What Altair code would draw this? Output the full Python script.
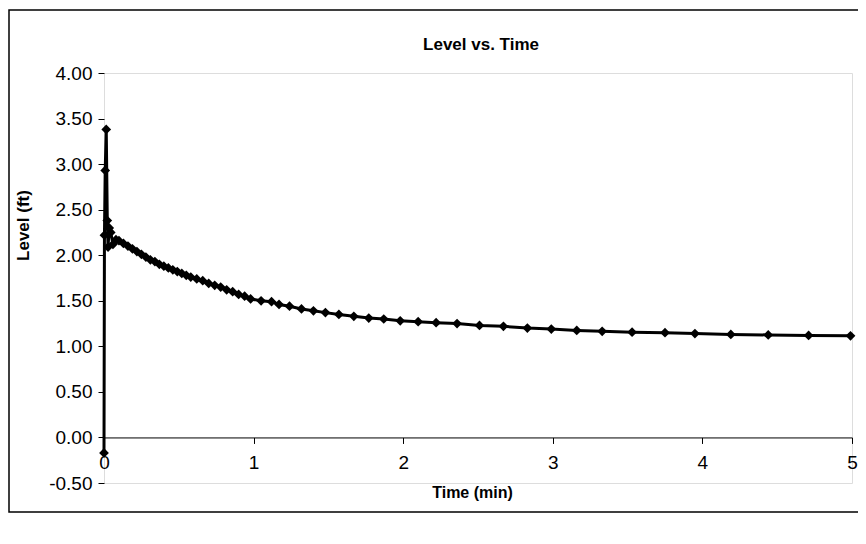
import altair as alt
import pandas as pd

time_min = [0, 0.003, 0.008, 0.015, 0.022, 0.027, 0.035, 0.045, 0.06, 0.08,
            0.10, 0.13, 0.16, 0.19, 0.22, 0.25, 0.28, 0.31, 0.34, 0.37,
            0.40, 0.43, 0.46, 0.49, 0.52, 0.55, 0.58, 0.62, 0.66, 0.70,
            0.74, 0.78, 0.82, 0.86, 0.90, 0.94, 0.98, 1.05, 1.12, 1.17,
            1.24, 1.32, 1.40, 1.48, 1.57, 1.67, 1.77, 1.87, 1.98, 2.10,
            2.22, 2.36, 2.51, 2.67, 2.83, 2.99, 3.16, 3.33, 3.53, 3.75,
            3.95, 4.19, 4.44, 4.71, 4.99]
level_ft = [-0.17, 2.22, 2.93, 3.38, 2.38, 2.09, 2.30, 2.25, 2.12, 2.17,
            2.16, 2.13, 2.10, 2.07, 2.04, 2.01, 1.98, 1.95, 1.93, 1.90,
            1.88, 1.86, 1.84, 1.82, 1.80, 1.78, 1.76, 1.74, 1.72, 1.69,
            1.67, 1.65, 1.62, 1.60, 1.57, 1.55, 1.52, 1.50, 1.49, 1.46,
            1.44, 1.41, 1.39, 1.37, 1.35, 1.33, 1.31, 1.30, 1.28, 1.27,
            1.26, 1.25, 1.23, 1.22, 1.20, 1.19, 1.175, 1.165, 1.155, 1.15,
            1.14, 1.13, 1.125, 1.12, 1.115]

y_ticks = [-0.5, 0, 0.5, 1.0, 1.5, 2.0, 2.5, 3.0, 3.5, 4.0]
x_ticks = [0, 1, 2, 3, 4, 5]
chart_title = "Level vs. Time"

df = pd.DataFrame({"t": time_min, "level": level_ft, "i": range(len(time_min))})

W, H = 748, 410
FONT = "Liberation Sans"
y_min, y_max = -0.5, 4.0
x_axis_offset = -H * (0 - y_min) / (y_max - y_min)

x_enc = alt.X("t:Q", scale=alt.Scale(domain=[0, 5], nice=False),
              axis=alt.Axis(values=x_ticks, format="d", title="Time (min)",
                            offset=x_axis_offset, grid=False, labelFlush=False,
                            tickSize=6, tickColor="black", domainColor="black",
                            labelFontSize=19, labelColor="black", labelFont=FONT,
                            labelPadding=10,
                            titleFont=FONT, titleFontSize=16, titleFontWeight="bold",
                            titleColor="black", titlePadding=12, titleX=368))
y_enc = alt.Y("level:Q", scale=alt.Scale(domain=[y_min, y_max], nice=False),
              axis=alt.Axis(values=y_ticks, title="Level (ft)",
                            labelExpr="datum.value < 0 ? '-' + format(-datum.value, '.2f') : format(datum.value, '.2f')",
                            grid=False, domain=False,
                            tickSize=6, tickColor="black",
                            labelFontSize=19, labelColor="black", labelFont=FONT,
                            labelPadding=6,
                            titleFont=FONT, titleFontSize=17, titleFontWeight="bold",
                            titleColor="black", titleY=152, titleX=-72))

base = alt.Chart(df)
line = base.mark_line(color="black", strokeWidth=3).encode(x=x_enc, y=y_enc, order="i:Q")
pts = base.mark_point(shape="diamond", filled=True, color="black", size=95, opacity=1).encode(
    x="t:Q", y="level:Q")
deco = alt.Chart(pd.DataFrame({"label": [chart_title]}))
frame = deco.mark_rect(fill=None, stroke="black", strokeWidth=1.5).encode(
    x=alt.value(-95), x2=alt.value(770), y=alt.value(-63), y2=alt.value(439))
title = deco.mark_text(font=FONT, fontSize=17, fontWeight="bold", color="black",
                       align="center", baseline="middle").encode(
    x=alt.value(377), y=alt.value(-28), text="label:N")

chart = alt.layer(frame, title, line, pts).properties(
    width=W, height=H,
    autosize=alt.AutoSizeParams(type="none"),
    padding={"left": 96, "top": 65, "right": 6, "bottom": 50},
).configure_view(stroke="black", strokeWidth=1.2).configure(background="white")

chart.save("out.html", embed_options={"renderer": "svg", "actions": False})
